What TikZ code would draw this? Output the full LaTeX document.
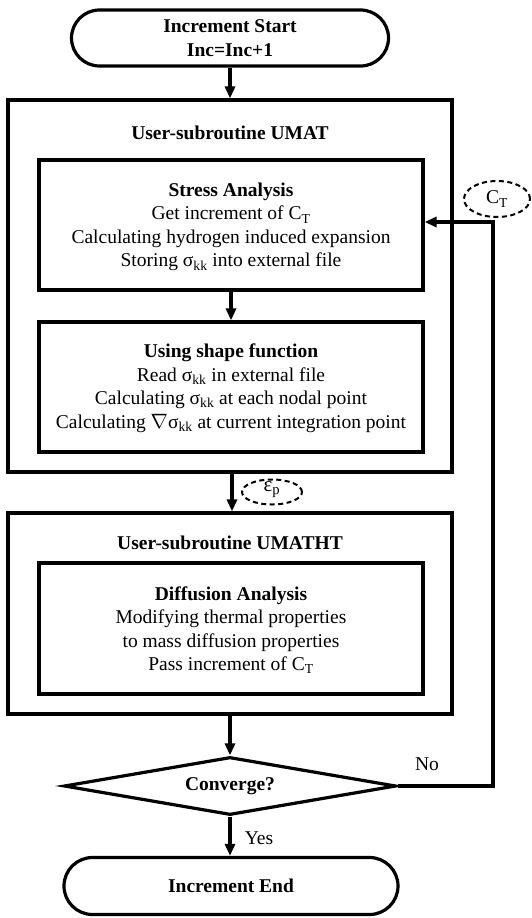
\documentclass[tikz,border=0pt]{standalone}
\usepackage{fontspec}
\setmainfont{Liberation Serif}
\usetikzlibrary{shapes.geometric,shapes.misc,arrows.meta}
\newcommand\lowtx[1]{\textsubscript{#1}}
\begin{document}
\begin{tikzpicture}[x=1pt,y=-1pt,line width=3.2pt,
  every node/.style={font=\fontsize{19.5}{23.5}\selectfont,align=center},
  term/.style={draw,rounded rectangle,inner sep=0pt},
  frame/.style={draw,rectangle,inner sep=0pt},
  dec/.style={draw,diamond,inner sep=0pt},
  tag/.style={draw,ellipse,inner sep=0pt,line width=2pt,dash pattern=on 5pt off 3.5pt},
  txt/.style={inner sep=0pt},
  arr/.style={-{Triangle[length=12pt,width=10pt]}}]
\useasboundingbox (0,0) rectangle (532,918);

% outer frames
\node[frame,minimum width=444pt,minimum height=372pt] (umat) at (230,286) {};
\node[txt,font=\fontsize{19.5}{23.5}\selectfont\bfseries] (umatt) at (230,133) {User-subroutine UMAT};
\node[frame,minimum width=444pt,minimum height=201pt] (umatht) at (230,613.5) {};
\node[txt,font=\fontsize{19.5}{23.5}\selectfont\bfseries] (umathtt) at (230,543) {User-subroutine UMATHT};

% inner boxes
\node[frame,minimum width=384pt,minimum height=130pt] (stress) at (231,225) {};
\node[txt] (stresst) at (231,227) {\textbf{Stress Analysis}\\Get increment of C\lowtx{T}\\Calculating hydrogen induced expansion\\Storing σ\lowtx{kk} into external file};

\node[frame,minimum width=384pt,minimum height=130pt] (shape) at (231,387) {};
\node[txt] (shapet) at (231,388) {\textbf{Using shape function}\\Read σ\lowtx{kk} in external file\\Calculating σ\lowtx{kk} at each nodal point\\Calculating $\nabla$σ\lowtx{kk} at current integration point};

\node[frame,minimum width=384pt,minimum height=131pt] (diff) at (231,628.5) {};
\node[txt] (difft) at (231,630) {\textbf{Diffusion Analysis}\\Modifying thermal properties\\to mass diffusion properties\\Pass increment of C\lowtx{T}};

% terminals and decision
\node[term,minimum width=317pt,minimum height=56pt] (start) at (230,38) {};
\node[txt,font=\fontsize{19.5}{23.5}\selectfont\bfseries] (startt) at (230,38) {Increment Start\\Inc=Inc+1};

\node[dec,minimum width=332pt,minimum height=58pt] (dia) at (230,786) {};
\node[txt,font=\fontsize{19.5}{23.5}\selectfont\bfseries] (diat) at (230,786) {Converge?};

\node[term,minimum width=334pt,minimum height=57pt] (end) at (231,886) {};
\node[txt,font=\fontsize{19.5}{23.5}\selectfont\bfseries] (endt) at (231,886) {Increment End};

% dashed tags
\node[tag,minimum width=60pt,minimum height=25pt] (ep) at (272,492) {};
\node[txt,font=\fontsize{21}{23.5}\selectfont] (ept) at (272,490) {ε\lowtx{p}};
\node[tag,minimum width=66pt,minimum height=36pt] (ct) at (497,199) {};
\node[txt] (ctt) at (497,199) {C\lowtx{T}};

% connectors
\draw[arr] (start.south) -- (umat.north -| start.south);
\draw[arr] (stress.south) -- (shape.north);
\draw[arr] (umat.south -| 232,0) -- (umatht.north -| 232,0);
\draw[arr] (umatht.south -| dia.north) -- (dia.north);
\draw[arr] (dia.south) -- (end.north -| dia.south);
\coordinate (fb) at (493,222);
\draw[arr] (dia.east) -| (fb) -- (stress.east |- fb);

\node[txt] (yes) at (259,838) {Yes};
\node[txt] (no) at (427,764) {No};
\end{tikzpicture}
\end{document}
